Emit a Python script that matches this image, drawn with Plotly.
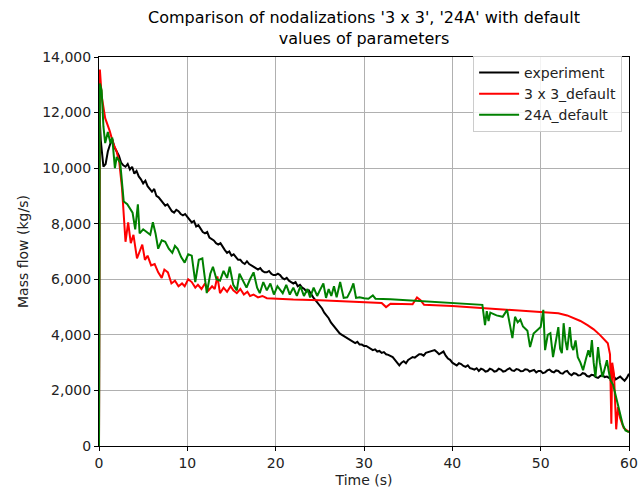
import plotly.graph_objects as go

# ---- experiment (black) ----
exp_t_start = [0, 0.05, 0.2, 0.5, 0.75, 1.0, 1.25, 1.5, 1.75, 2.0, 2.25, 2.5, 2.75]
exp_v_start = [0, 12000, 11000, 10050, 10150, 10600, 10850, 11050, 10750, 10600, 10450, 10200, 10100]
# sampled every 0.25 s from 3.0 s to 60.0 s
exp_v_rest = [
    10050, 10150, 9950, 10050, 9800, 9900, 9700, 9600,
    9450, 9550, 9350, 9250, 9150, 9250, 9000, 8950,
    8850, 8750, 8650, 8700, 8550, 8450, 8400, 8500,
    8450, 8350, 8300, 8350, 8250, 8150, 8050, 8100,
    7900, 7950, 7800, 7700, 7650, 7700, 7500, 7450,
    7400, 7300, 7250, 7300, 7150, 7050, 6950, 7000,
    6850, 6900, 6800, 6700, 6700, 6600, 6550, 6650,
    6550, 6500, 6450, 6400, 6350, 6400, 6300, 6250,
    6250, 6300, 6200, 6150, 6150, 6200, 6150, 6050,
    6000, 6050, 5950, 5900, 5850, 5900, 5750, 5800,
    5700, 5650, 5550, 5600, 5450, 5350, 5250, 5150,
    5050, 4950, 4800, 4700, 4600, 4450, 4350, 4250,
    4150, 4050, 4000, 3950, 3900, 3850, 3800, 3750,
    3700, 3750, 3650, 3650, 3600, 3600, 3550, 3500,
    3450, 3480, 3400, 3420, 3350, 3380, 3300, 3280,
    3250, 3200, 3100, 3000, 2900, 3000, 3050, 2980,
    3100, 3150, 3200, 3180, 3250, 3300, 3300, 3250,
    3350, 3380, 3400, 3420, 3450, 3380, 3300, 3350,
    3400, 3250, 3150, 3100, 3000, 2950, 2900, 2980,
    2950, 2880, 2850, 2900, 2800, 2780, 2750, 2800,
    2700, 2780, 2750, 2680, 2700, 2780, 2750, 2680,
    2700, 2780, 2750, 2680, 2700, 2760, 2800, 2720,
    2700, 2770, 2750, 2690, 2700, 2760, 2750, 2680,
    2700, 2740, 2650, 2700, 2700, 2620, 2650, 2720,
    2750, 2680, 2650, 2720, 2700, 2620, 2600, 2680,
    2700, 2600, 2550, 2620, 2600, 2540, 2550, 2620,
    2600, 2520, 2500, 2560, 2550, 2480, 2450, 2520,
    2550, 2480, 2500, 2450, 2450, 2520, 2400, 2460,
    2500, 2420, 2350, 2450, 2600]
exp_t = exp_t_start + [3.0 + 0.25 * i for i in range(len(exp_v_rest))]
exp_v = exp_v_start + exp_v_rest

# ---- 3 x 3_default (red) ----
red_t = [0, 0.1, 0.3, 0.7, 1.2, 1.6, 2.0, 2.3, 2.6, 2.8, 3.0, 3.3, 3.6, 3.9, 4.3, 4.6, 4.9, 5.2, 5.5, 5.9,
         6.3, 6.7, 7.1, 7.4, 7.8, 8.2, 8.6, 9.0, 9.4, 9.7, 10.1, 10.5, 10.9, 11.2, 11.6, 12.0, 12.4, 12.8,
         13.1, 13.4, 13.7, 14.1, 14.5, 14.9, 15.2, 15.6, 16.0, 16.4, 16.8, 17.1, 17.5, 18.0, 18.5, 19.0,
         20.0, 22.0, 25.0, 28.0, 30.0, 32.0, 32.5, 33.0, 35.5, 36.0, 36.4, 36.8, 40.0, 43.0, 46.0, 49.0,
         52.0, 53.0, 53.7, 54.5, 55.3, 56.0, 56.7, 57.2, 57.6, 57.85, 58.0, 58.1, 58.3, 58.55, 58.75, 59.0,
         59.4, 60.0]
red_v = [0, 13550, 12600, 11800, 11350, 10900, 10600, 10200, 9300, 8200, 7350, 8050, 7300, 7600, 6750, 7000, 7250, 6700, 6850, 6500,
         6550, 6250, 6050, 6350, 6250, 5850, 5950, 5750, 5850, 5750, 6000, 5900, 5700, 5800, 5650, 5850, 5600, 5750,
         5650, 6100, 5500, 5700, 5550, 5750, 5600, 5500, 5650, 5450, 5550, 5400, 5450, 5350, 5400, 5320,
         5300, 5270, 5250, 5200, 5180, 5150, 5000, 5120, 5100, 5350, 5250, 5080, 5040, 4980, 4920, 4860,
         4780, 4700, 4600, 4500, 4350, 4200, 4000, 3850, 3700, 3300, 800, 3000, 2600, 600, 1400, 1000,
         650, 500]

# ---- 24A_default (green) ----
grn_t = [0, 0.1, 0.3, 0.5, 0.7, 1.0, 1.3, 1.5, 1.8, 2.0, 2.4, 2.6, 2.8, 3.2, 3.5, 3.8, 4.1, 4.4, 4.6, 5.0,
         5.4, 5.8, 6.1, 6.4, 6.7, 7.1, 7.5, 7.9, 8.3, 8.6, 8.9, 9.3, 9.7, 10.1, 10.5, 10.9, 11.3, 11.7,
         12.2, 12.6, 12.9, 13.3, 13.7, 14.1, 14.5, 14.8, 15.2, 15.6, 15.9, 16.3, 16.7, 17.1, 17.5, 17.9,
         18.2, 18.6, 19.0, 19.4, 19.8, 20.2, 20.5, 20.8, 21.2, 21.6, 22.0, 22.4, 22.8, 23.2, 23.6, 23.9,
         24.3, 24.7, 25.0, 25.4, 25.7, 26.0, 26.3, 26.6, 26.9, 27.3, 27.7, 28.1, 28.5, 28.8, 29.1, 29.5,
         30.0, 30.5, 31.0, 31.3, 33.0, 35.0, 37.0, 39.0, 41.0, 43.4, 43.7, 43.9, 44.1, 44.3, 45.0, 45.7,
         46.2, 46.4, 46.8, 47.1, 47.4, 47.7, 48.0, 48.5, 48.8, 49.2, 49.6, 50.0, 50.3, 50.5, 50.8, 51.1,
         51.4, 51.7, 52.0, 52.2, 52.4, 52.6, 52.8, 53.0, 53.3, 53.5, 53.7, 53.95, 54.2, 54.5, 54.8, 55.1,
         55.4, 55.6, 55.8, 56.0, 56.2, 56.5, 56.7, 57.0, 57.3, 57.5, 57.7, 57.9, 58.2, 58.7, 59.0, 59.3,
         59.6, 60.0]
grn_v = [0, 13050, 12800, 11500, 10900, 11300, 10900, 11100, 10000, 10400, 10200, 9450, 8800, 8700, 8550, 8400, 7800, 8700, 7650, 7800,
         7700, 7600, 8050, 7650, 7100, 7400, 7350, 7100, 6950, 7200, 7100, 6800, 6600, 6900, 6850, 5900, 6700, 6750,
         5500, 6200, 6450, 6000, 5950, 6300, 6050, 6450, 5800, 5600, 6200, 5950, 5700, 6000, 6250, 5700,
         5500, 5900, 5600, 5850, 5450, 5750, 5600, 5500, 5800, 5450, 5700, 5400, 5750, 5400, 5650, 5350,
         5700, 5400, 5600, 5850, 5330, 5650, 5400, 5750, 5350, 5900, 5330, 5350, 5600, 5850, 5330, 5350,
         5320, 5300, 5420, 5300, 5280, 5240, 5200, 5170, 5130, 5080, 4350, 4850, 4500, 4800, 4700, 4650,
         4900, 4600, 3880, 4650, 4450, 4550, 4300, 4150, 3560, 4050, 4170, 4280, 4900, 3450, 4000, 4060,
         3200, 3700, 4280, 3500, 3340, 4420, 3800, 3450, 4280, 3600, 3450, 3800, 3200, 3000, 2730, 3100,
         3450, 3200, 3810, 3000, 2480, 3560, 3000, 2480, 2900, 3090, 2700, 2370, 2200, 1550, 1100, 760,
         560, 500]

x_ticks = [0, 10, 20, 30, 40, 50, 60]
y_ticks = [0, 2000, 4000, 6000, 8000, 10000, 12000, 14000]

FONT = "DejaVu Sans, Liberation Sans, sans-serif"

W, H = 638, 495
L, R, T, B = 99, 9, 57, 49

fig = go.Figure()
fig.add_trace(go.Scatter(x=exp_t, y=exp_v, mode="lines", name="experiment",
                         line=dict(color="black", width=2)))
fig.add_trace(go.Scatter(x=red_t, y=red_v, mode="lines", name="3 x 3_default",
                         line=dict(color="#ff0000", width=2)))
fig.add_trace(go.Scatter(x=grn_t, y=grn_v, mode="lines", name="24A_default",
                         line=dict(color="#008000", width=2)))

axis_common = dict(showline=True, linecolor="black", linewidth=1, mirror=True,
                   ticks="outside", ticklen=4, tickcolor="black",
                   showgrid=True, gridcolor="#b0b0b0", gridwidth=1, zeroline=False,
                   tickfont=dict(family=FONT, size=14, color="#222222"))

fig.update_layout(
    width=W, height=H,
    margin=dict(l=L, r=R, t=T, b=B, autoexpand=False),
    paper_bgcolor="white", plot_bgcolor="white",
    font=dict(family=FONT, color="#222222"),
    title=dict(text="Comparison of nodalizations '3 x 3', '24A' with default<br>values of parameters",
               xref="container", x=(L + (W - R)) / 2 / W, xanchor="center",
               yref="container", y=1 - 23 / H, yanchor="middle",
               font=dict(family=FONT, size=16, color="black")),
    xaxis=dict(range=[0, 60], tickvals=x_ticks,
               title=dict(text="Time (s)", font=dict(family=FONT, size=14), standoff=5),
               **axis_common),
    yaxis=dict(range=[0, 14000], tickvals=y_ticks, tickformat=",d",
               title=dict(text="Mass flow (kg/s)", font=dict(family=FONT, size=14), standoff=10),
               **axis_common),
    legend=dict(x=0.987, y=1.003, xanchor="right", yanchor="top",
                bgcolor="rgba(255,255,255,0.85)", bordercolor="#cccccc", borderwidth=1,
                font=dict(family=FONT, size=14, color="#222222"),
                tracegroupgap=0, itemwidth=40),
    showlegend=True,
)

fig.write_html("out.html",
               config={"displayModeBar": False, "staticPlot": True},
               post_script="document.body.style.margin='0';document.body.style.overflow='hidden';")
